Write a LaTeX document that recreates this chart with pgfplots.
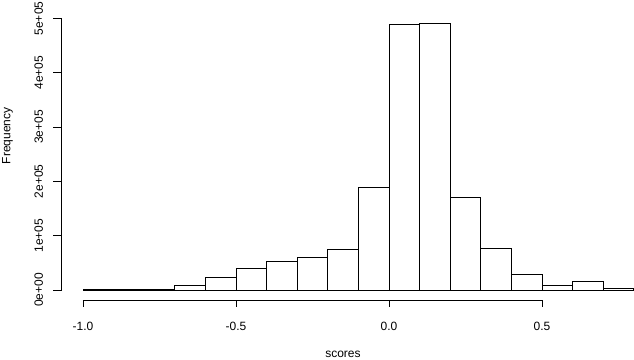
\documentclass[border=0pt]{standalone}
\usepackage{fontspec}
\setmainfont{Liberation Sans}
\usepackage{pgfplots}
\pgfplotsset{compat=1.18}
\begin{document}
\fontsize{12bp}{14bp}\selectfont
\begin{tikzpicture}
\begin{axis}[
    scale only axis, width=634bp, height=360bp,
    xmin=-1.2712, xmax=0.8007, ymin=-128900, ymax=534070,
    hide axis, clip=false,
]
% histogram of scores, bins of 0.1
\addplot[ybar interval, fill=white, draw=black, line width=0.8bp] coordinates {
    (-1.0,1500) (-0.9,600) (-0.8,1000) (-0.7,8000) (-0.6,22600)
    (-0.5,39200) (-0.4,52800) (-0.3,60800) (-0.2,74900) (-0.1,189700)
    (0.0,489300) (0.1,491000) (0.2,171300) (0.3,76800) (0.4,28900)
    (0.5,7900) (0.6,16000) (0.7,3100) (0.8,3100)
};

% x axis, R style
\draw[line width=0.8bp] (axis cs:-1.0,-18430) -- (axis cs:0.5,-18430);
\draw[line width=0.8bp] (axis cs:-1.0,-18430) -- (axis cs:-1.0,-31330);
\draw[line width=0.8bp] (axis cs:-0.5,-18430) -- (axis cs:-0.5,-31330);
\draw[line width=0.8bp] (axis cs:0.0,-18430) -- (axis cs:0.0,-31330);
\draw[line width=0.8bp] (axis cs:0.5,-18430) -- (axis cs:0.5,-31330);
\node[anchor=base] at (axis cs:-1.0,-73720) {-1.0};
\node[anchor=base] at (axis cs:-0.5,-73720) {-0.5};
\node[anchor=base] at (axis cs:0.0,-73720) {0.0};
\node[anchor=base] at (axis cs:0.5,-73720) {0.5};
\node[anchor=base, inner sep=0pt] at (axis cs:-0.1503,-124500) {scores};

% y axis, R style
\draw[line width=0.8bp] (axis cs:-1.0696,0) -- (axis cs:-1.0696,500000);
\draw[line width=0.8bp] (axis cs:-1.0696,0) -- (axis cs:-1.098,0);
\draw[line width=0.8bp] (axis cs:-1.0696,100000) -- (axis cs:-1.098,100000);
\draw[line width=0.8bp] (axis cs:-1.0696,200000) -- (axis cs:-1.098,200000);
\draw[line width=0.8bp] (axis cs:-1.0696,300000) -- (axis cs:-1.098,300000);
\draw[line width=0.8bp] (axis cs:-1.0696,400000) -- (axis cs:-1.098,400000);
\draw[line width=0.8bp] (axis cs:-1.0696,500000) -- (axis cs:-1.098,500000);
\node[anchor=base, rotate=90] at (axis cs:-1.1307,0) {0e+00};
\node[anchor=base, rotate=90] at (axis cs:-1.1307,100000) {1e+05};
\node[anchor=base, rotate=90] at (axis cs:-1.1307,200000) {2e+05};
\node[anchor=base, rotate=90] at (axis cs:-1.1307,300000) {3e+05};
\node[anchor=base, rotate=90] at (axis cs:-1.1307,400000) {4e+05};
\node[anchor=base, rotate=90] at (axis cs:-1.1307,500000) {5e+05};
\node[anchor=base, rotate=90] at (axis cs:-1.2369,283800) {Frequency};
\end{axis}
\pgfresetboundingbox
\path[use as bounding box] (current axis.south west) rectangle (current axis.north east);
\end{tikzpicture}
\end{document}
